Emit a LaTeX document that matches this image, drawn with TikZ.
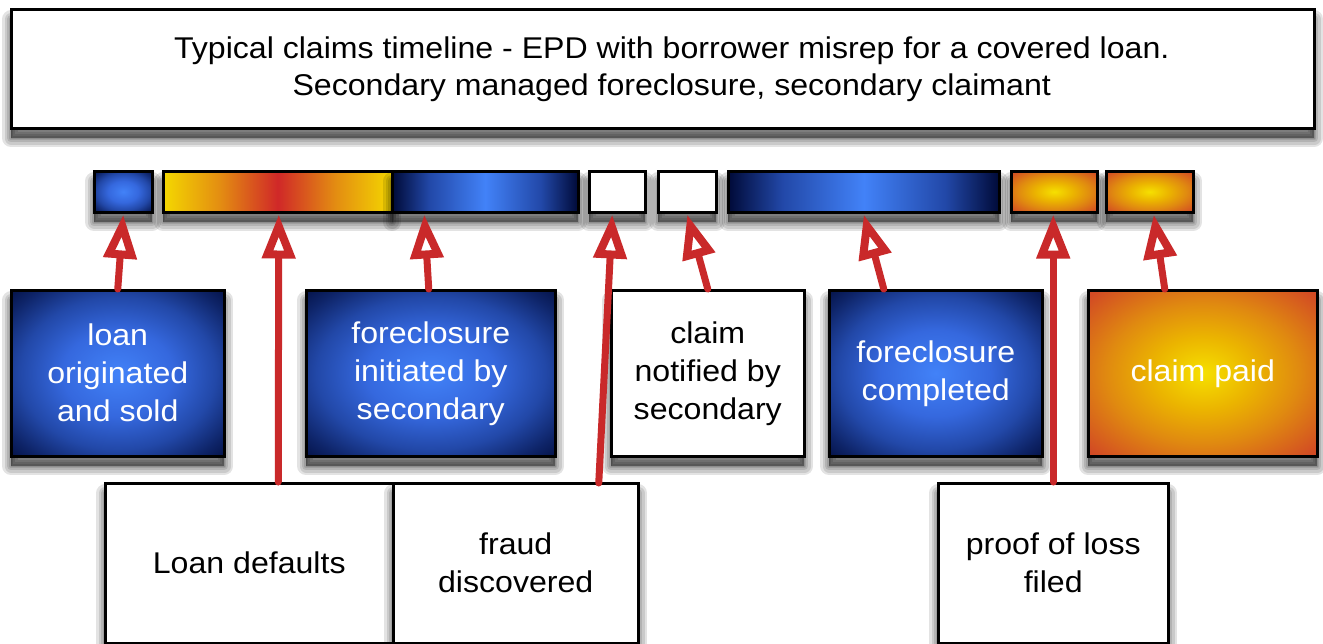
\documentclass[tikz,border=0pt]{standalone}
\usepackage{fontspec}
\setmainfont[FakeStretch=1.07]{Liberation Sans}
\usetikzlibrary{arrows.meta,calc}

\definecolor{arrowred}{HTML}{C9292A}
\definecolor{bcA}{HTML}{4282F8}
\definecolor{bcB}{HTML}{3568DE}
\definecolor{bcC}{HTML}{2248A8}
\definecolor{bcD}{HTML}{0E2468}
\definecolor{bcE}{HTML}{000A38}
\definecolor{ocA}{HTML}{F6E000}
\definecolor{ocB}{HTML}{EBB400}
\definecolor{ocC}{HTML}{E08A10}
\definecolor{ocD}{HTML}{D24A24}
\definecolor{ycA}{HTML}{F4D800}
\definecolor{ycB}{HTML}{E38C12}
\definecolor{ycC}{HTML}{D02828}

% TikZ maps the path box onto the central 50bp x 50bp of a shading
\pgfdeclareradialshading{blueradial}{\pgfpointorigin}{color(0bp)=(bcA); color(13bp)=(bcB); color(23bp)=(bcC); color(31bp)=(bcD); color(38bp)=(bcE); color(50bp)=(bcE)}
\pgfdeclareradialshading{orangeradial}{\pgfpointorigin}{color(0bp)=(ocA); color(11bp)=(ocB); color(21bp)=(ocC); color(34bp)=(ocD); color(50bp)=(ocD)}
\pgfdeclarehorizontalshading{bluebar}{100bp}{color(0bp)=(bcE); color(25bp)=(bcE); color(35bp)=(bcC); color(50bp)=(bcA); color(65bp)=(bcC); color(75bp)=(bcE); color(100bp)=(bcE)}
\pgfdeclarehorizontalshading{yellowbar}{100bp}{color(0bp)=(ycA); color(25bp)=(ycA); color(37.5bp)=(ycB); color(50bp)=(ycC); color(62.5bp)=(ycB); color(75bp)=(ycA); color(100bp)=(ycA)}

\tikzset{
  shl/.style={preaction={draw=black, fill=black, opacity=0.11, line width=#1, line join=round,
      transform canvas={yshift=-10pt}}},
  shad/.style={shl=18pt, shl=13pt, shl=8pt, shl=4pt, shl=1pt},
  box/.style={draw=black, line width=2.5pt, inner sep=0pt, align=center, anchor=north west,
    minimum height=166pt, font=\fontsize{30}{38}\selectfont, shad},
  bluebox/.style={box, shading=blueradial, text=white},
  orangebox/.style={box, shading=orangeradial, text=white},
  whitebox/.style={box, fill=white, text=black},
  lowbox/.style={whitebox, minimum height=160pt},
  bar/.style={draw=black, line width=2.5pt, inner sep=0pt, anchor=north west, minimum height=41pt, shad},
  evt/.style={draw=arrowred, line width=7pt, line cap=round,
    -{Triangle[open, length=44pt, width=32pt, line width=8pt]}}
}

\begin{document}
\begin{tikzpicture}[x=1pt, y=-1pt]
\useasboundingbox (0,0) rectangle (1323,643);
\clip (0,0) rectangle (1323,643);
\fill[white] (0,0) rectangle (1323,643);

% title
\node[draw=black, line width=2.5pt, fill=white, anchor=north west, minimum width=1303pt, minimum height=119pt,
  inner sep=0pt, align=center, font=\fontsize{30}{37}\selectfont, shad] (title) at (10,8)
  {\hspace*{18pt}Typical claims timeline - EPD with borrower misrep for a covered loan.\\\hspace*{18pt}Secondary managed foreclosure, secondary claimant};

% timeline bars
\node[bar, shading=blueradial, minimum width=58pt] (b1) at (93,170) {};
\node[bar, shading=yellowbar, minimum width=229pt] (b2) at (162,170) {};
\node[bar, shading=bluebar, minimum width=186pt] (b3) at (391,170) {};
\node[bar, fill=white, minimum width=56pt] (b4) at (588,170) {};
\node[bar, fill=white, minimum width=58pt] (b5) at (657,170) {};
\node[bar, shading=bluebar, minimum width=271pt] (b6) at (727,170) {};
\node[bar, shading=orangeradial, minimum width=86pt] (b7) at (1010,170) {};
\node[bar, shading=orangeradial, minimum width=87pt] (b8) at (1105,170) {};

% event boxes
\node[bluebox, minimum width=213pt] (n1) at (10,289) {loan\\originated\\and sold};
\node[bluebox, minimum width=249pt] (n2) at (305,289) {foreclosure\\initiated by\\secondary};
\node[whitebox, minimum width=193pt] (n3) at (610,289) {claim\\notified by\\secondary};
\node[bluebox, minimum width=213pt] (n4) at (828,289) {foreclosure\\completed};
\node[orangebox, minimum width=229pt] (n5) at (1087,289) {claim paid};

\node[lowbox, minimum width=288pt] (ld) at (104,482) {Loan defaults};
\node[lowbox, minimum width=245pt] (fd) at (392,482) {fraud\\discovered};
\node[lowbox, minimum width=230pt] (pl) at (937,482) {proof of loss\\filed};

% connectors
\draw[evt] (n1.north) -- ($(b1.south)+(0,1)$);
\draw[evt] ($(ld.north)+(29,0)$) -- ($(b2.south)+(1,1)$);
\draw[evt] ($(n2.north)+(-2,0)$) -- ($(b3.south)+(-61,1)$);
\draw[evt] ($(fd.north)+(83,1)$) -- ($(b4.south)+(-5,1)$);
\draw[evt] (n3.north) -- ($(b5.south)+(0,1)$);
\draw[evt] ($(n4.north)+(-52,0)$) -- ($(b6.south)+(0,1)$);
\draw[evt] (pl.north) -- ($(b7.south)+(-1,1)$);
\draw[evt] ($(n5.north)+(-38,0)$) -- ($(b8.south)+(4,1)$);
\end{tikzpicture}
\end{document}
